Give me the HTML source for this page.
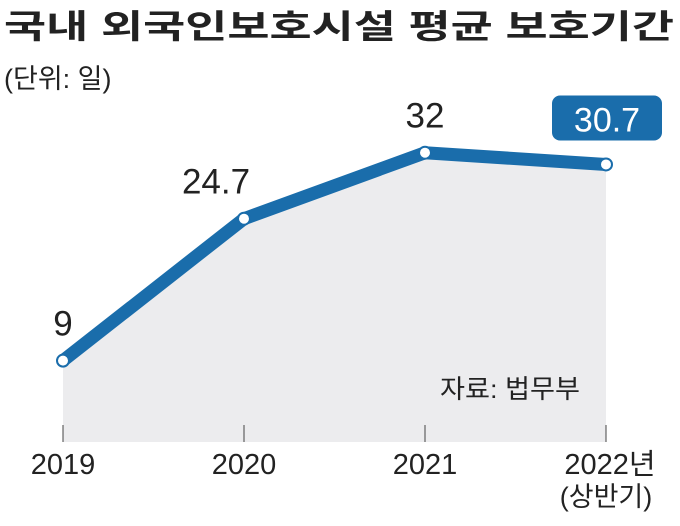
<!DOCTYPE html>
<html><head><meta charset="utf-8"><style>
body{margin:0;background:#fff;width:680px;height:521px;overflow:hidden;font-family:"Liberation Sans","Noto Sans CJK KR",sans-serif}
</style></head><body>
<svg width="680" height="521" viewBox="0 0 680 521" font-family="'Liberation Sans','Noto Sans CJK KR',sans-serif">
<text x="4" y="38" font-size="33" font-weight="bold" fill="#222" textLength="670" lengthAdjust="spacingAndGlyphs">국내 외국인보호시설 평균 보호기간</text>
<text x="4" y="88" font-size="27" fill="#222">(단위: 일)</text>
<g id="plot"></g>
<text x="440" y="398" font-size="26" fill="#222" textLength="140" lengthAdjust="spacingAndGlyphs">자료: 법무부</text>
<text x="606" y="506" font-size="27" fill="#222" text-anchor="middle">(상반기)</text>
</svg>
<script>
const categories=["2019","2020","2021","2022년"];
const values=[9,24.7,32,30.7];
const valueLabels=["9","24.7","32","30.7"];
const xs=i=>63+i*181;
const ys=v=>442-v*9.04;
const ns="http://www.w3.org/2000/svg";
const g=document.getElementById('plot');
function mk(t,a){const e=document.createElementNS(ns,t);for(const k in a)e.setAttribute(k,a[k]);g.appendChild(e);return e;}
let pts=values.map((v,i)=>xs(i)+","+ys(v));
const area=mk('polygon',{points:xs(0)+",442 "+pts.join(" ")+" "+xs(values.length-1)+",442",fill:"#ececee"});


categories.forEach((c,i)=>{
 const t=mk('line',{x1:xs(i),x2:xs(i),y1:425,y2:442,stroke:"#444","stroke-width":1});
 
 
 const l=mk('text',{x:xs(i)+(i==3?4:0),y:474,"font-size":29,fill:"#222","text-anchor":"middle"});
 l.textContent=c;
 
 
});
const line=mk('polyline',{points:pts.join(" "),fill:"none",stroke:"#1a6dab","stroke-width":13,"stroke-linejoin":"round","stroke-linecap":"round"});


values.forEach((v,i)=>{
 const p=mk('circle',{cx:xs(i),cy:ys(v),r:6,fill:"#fff",stroke:"#1a6dab","stroke-width":2});
 
 
 const last=i==values.length-1;
 if(last){
  const r=mk('rect',{x:xs(i)-54,y:ys(v)-69,width:110,height:45,rx:8,fill:"#1a6dab"});
  
  
 }
 const dx=[0,-28,0,1][i];
 const t=mk('text',{x:xs(i)+dx,y:last?ys(v)-33:ys(v)-25,"font-size":last?34:35,fill:last?"#fff":"#222","text-anchor":"middle"});
 t.textContent=valueLabels[i];
 
 
});
</script>
</body></html>
